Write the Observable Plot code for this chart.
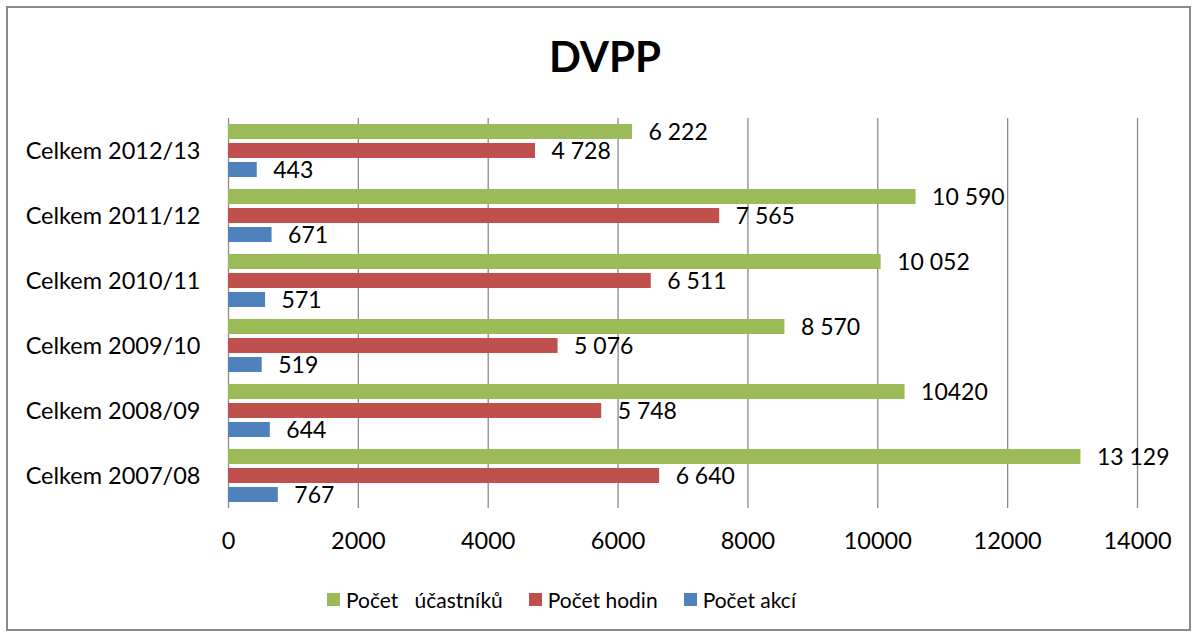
<!DOCTYPE html>
<html><head><meta charset="utf-8">
<script src="https://cdn.jsdelivr.net/npm/d3@7"></script>
<script src="https://cdn.jsdelivr.net/npm/@observablehq/plot@0.6"></script>
<style>
body{margin:0;background:#fff;font-family:Lato,sans-serif;}
#wrap{position:relative;width:1197px;height:637px;overflow:hidden;background:#fff}
#frame{position:absolute;left:6px;top:6px;width:1185px;height:625px;border:2px solid #8a8a8a;box-sizing:border-box}
#title{position:absolute;left:0;width:1210px;top:35px;text-align:center;font-weight:bold;font-size:42px;line-height:1;color:#000}
#chart{position:absolute;left:0;top:0}
#legend{position:absolute;top:589px;left:327px;display:flex;align-items:center;font-size:21px;line-height:1;color:#000;white-space:pre}
#legend .item{display:flex;align-items:center;margin-right:26px}
#legend .sw{width:13px;height:13px;margin-right:6px}
</style></head>
<body>
<div id="wrap">
  <div id="frame"></div>
  <div id="title">DVPP</div>
  <div id="chart"></div>
  <div id="legend"></div>
</div>
<script>
const categories = ["Celkem 2007/08","Celkem 2008/09","Celkem 2009/10","Celkem 2010/11","Celkem 2011/12","Celkem 2012/13"];
const seriesNames = ["Počet   účastníků","Počet hodin","Počet akcí"];
const seriesColors = ["#9BBB59","#C0504D","#4F81BD"];
const ucastniku = [13129, 10420, 8570, 10052, 10590, 6222];
const hodin = [6640, 5748, 5076, 6511, 7565, 4728];
const akci = [767, 644, 519, 571, 671, 443];
const ucastnikuLabels = ["13 129","10420","8 570","10 052","10 590","6 222"];
const hodinLabels = ["6 640","5 748","5 076","6 511","7 565","4 728"];
const akciLabels = ["767","644","519","571","671","443"];

const values = [ucastniku, hodin, akci];
const labels = [ucastnikuLabels, hodinLabels, akciLabels];
const data = [];
categories.forEach((c, i) => {
  seriesNames.forEach((s, j) => {
    data.push({cat: c, series: s, value: values[j][i], label: labels[j][i]});
  });
});

const chart = Plot.plot({
  width: 1197,
  height: 580,
  marginLeft: 228,
  marginRight: 60,
  marginTop: 118,
  marginBottom: 72,
  style: {fontFamily: "Lato, sans-serif", fontSize: "23.5px", color: "#000", background: "transparent"},
  x: {domain: [0, 14000], ticks: 7, tickFormat: d3.format("d"), tickSize: 0, tickPadding: 24, label: null},
  fy: {domain: categories.slice().reverse(), padding: 0, axis: "left", tickSize: 0, tickPadding: 28, label: null},
  y: {domain: seriesNames, paddingInner: 0.23, paddingOuter: 0.28, axis: null, label: null},
  color: {domain: seriesNames, range: seriesColors},
  marks: [
    Plot.gridX({ticks: 7, stroke: "#8a8a8a", strokeOpacity: 1, strokeWidth: 1.3}),
    Plot.barX(data, {x: "value", y: "series", fy: "cat", fill: "series"}),
    Plot.text(data, {x: "value", y: "series", fy: "cat", text: "label", textAnchor: "start", dx: 16, dy: 1, fontSize: 23, fill: "#000"})
  ]
});
document.getElementById("chart").appendChild(chart);

const legend = document.getElementById("legend");
seriesNames.forEach((s, j) => {
  const item = document.createElement("div");
  item.className = "item";
  const sw = document.createElement("div");
  sw.className = "sw";
  sw.style.background = seriesColors[j];
  const t = document.createElement("span");
  t.textContent = s;
  item.appendChild(sw);
  item.appendChild(t);
  legend.appendChild(item);
});
</script>
</body></html>
